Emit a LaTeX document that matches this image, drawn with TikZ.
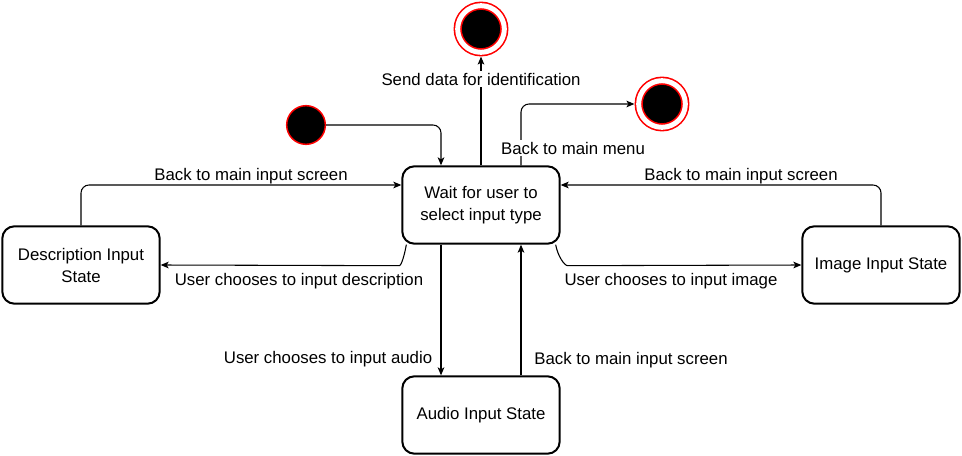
\documentclass[tikz,border=0pt]{standalone}
\usepackage{fontspec}
\setmainfont{Liberation Sans}
\usetikzlibrary{arrows.meta,calc}

\begin{document}
\begin{tikzpicture}[x=0.75pt,y=-0.75pt,every text node part/.style={align=center},
		>={Stealth[length=6pt,width=5pt,inset=1.5pt]}]
		\tikzstyle{state}=[rectangle,draw,rounded corners=9pt,line width=1.5pt,
							minimum width=118pt,minimum height=58pt,
							font=\fontsize{12.6}{16.5}\selectfont]
		\tikzstyle{initial}=[circle,draw=red,fill=black,line width=1.1pt,
							minimum size=29pt,inner sep=0pt]
		\tikzstyle{final}=[circle,draw=red,double=white,double distance=3.75pt,
							fill=black,line width=1.2pt,minimum size=35pt,
							inner sep=0pt,outer sep=3.2pt]
		\tikzstyle{lbl}=[font=\fontsize{12.6}{15.5}\selectfont,inner sep=1pt]
		\tikzstyle{edge}=[->,line width=0.8pt,rounded corners=6pt]

		\useasboundingbox (0,0) rectangle (962,456);

		% states
		\node[state] (wait) at (481,205) {Wait for user to\\select input type};
		\node[state] (desc) at (81,265) {Description Input\\State};
		\node[state] (image) at (881,265) {Image Input State};
		\node[state] (audio) at (481,415) {Audio Input State};

		% start and end
		\node[initial] (init) at (306,125) {};
		\node[final] (end1) at (481,29) {};
		\node[final] (end2) at (662,104) {};

		% edges
		\draw[edge] (init.east) -| ($(wait.north)+(-40,0)$);
		\draw[edge] (wait.north) -- (end1);
		\draw[edge] ($(wait.north)+(40,0)$) |- (end2);
		\draw[edge] (desc.north) |- ($(wait.west)+(0,-20)$);
		\draw[edge] (image.north) |- ($(wait.east)+(0,-20)$);
		\draw[edge] ($(wait.south west)+(5,0)$) to[out=-100,in=0] ++(-15,21) -- (desc.east);
		\draw[edge] ($(wait.south east)+(-5,0)$) to[out=-80,in=180] ++(20,21) -- (image.west);
		\draw[edge] ($(wait.south)+(-40,0)$) -- ($(audio.north)+(-40,0)$);
		\draw[edge] ($(audio.north)+(40,0)$) -- ($(wait.south)+(40,0)$);

		% labels
		\node[lbl,fill=white] (l1) at (481,79) {Send data for identification};
		\node[lbl,fill=white] (l2) at (573,148) {Back to main menu};
		\node[lbl] (l3) at (251,176) {Back to main input screen};
		\node[lbl] (l4) at (741,176) {Back to main input screen};
		\node[lbl] (l5) at (299,281) {User chooses to input description};
		\node[lbl] (l6) at (671,281) {User chooses to input image};
		\node[lbl] (l7) at (328,359) {User chooses to input audio};
		\node[lbl] (l8) at (631,360) {Back to main input screen};
\end{tikzpicture}
\end{document}
